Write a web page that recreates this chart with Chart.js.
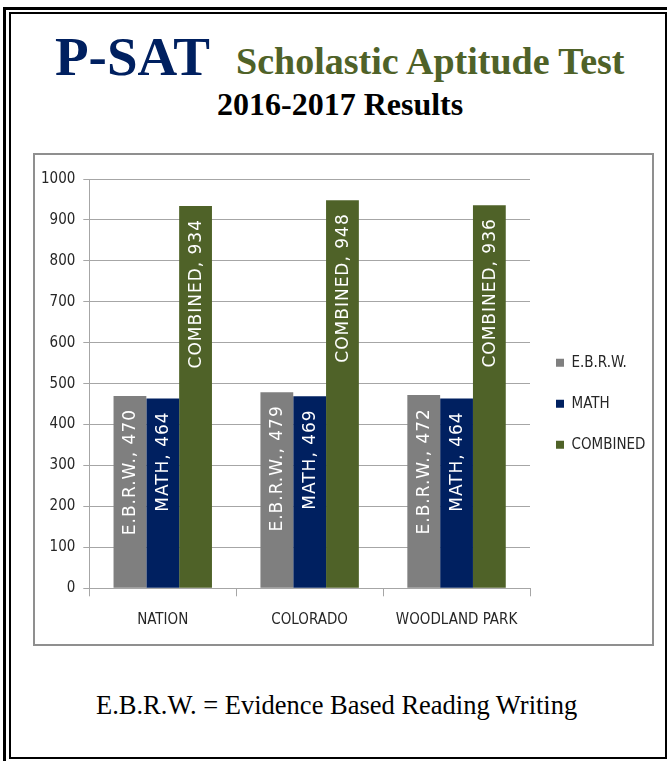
<!DOCTYPE html>
<html>
<head>
<meta charset="utf-8">
<script src="https://cdn.jsdelivr.net/npm/chart.js@4.4.1/dist/chart.umd.min.js"></script>
<style>
  html, body { margin: 0; padding: 0; background: #fff; }
  body { width: 667px; height: 761px; position: relative; overflow: hidden; }
  .frame-outer { position: absolute; left: 3px; top: 7px; width: 690px; height: 780px; border: 3px solid #000; box-sizing: border-box; }
  .frame-inner { position: absolute; left: 9px; top: 12px; width: 658px; height: 747px; border: 2px solid #000; box-sizing: border-box; }
  .txt { position: absolute; white-space: nowrap; line-height: 1; font-family: "Liberation Serif", "Times New Roman", serif; }
  #psat { left: 55px; top: 29px; font-size: 55px; font-weight: bold; color: #002060; }
  #sat { left: 236px; top: 42px; font-size: 38px; font-weight: bold; color: #4F6228; }
  #results { left: 217px; top: 88px; font-size: 32px; font-weight: bold; color: #000; }
  #note { left: 96px; top: 692px; font-size: 26.5px; color: #000; }
  .chart-box { position: absolute; left: 33px; top: 153px; width: 621px; height: 493px; border: 2px solid #8f8f8f; box-sizing: border-box; background: #fff; }
  .chart-box canvas { position: absolute; left: 0; top: 0; }
</style>
</head>
<body>
<div class="frame-outer"></div>
<div class="frame-inner"></div>
<div class="txt" id="psat">P-SAT</div>
<div class="txt" id="sat">Scholastic Aptitude Test</div>
<div class="txt" id="results">2016-2017 Results</div>
<div class="chart-box"><canvas id="psatChart" width="617" height="489"></canvas></div>
<div class="txt" id="note">E.B.R.W. = Evidence Based Reading Writing</div>

<script>
const categories = ["NATION", "COLORADO", "WOODLAND PARK"];
const seriesNames = ["E.B.R.W.", "MATH", "COMBINED"];
const ebrwScores = [470, 479, 472];
const mathScores = [464, 469, 464];
const combinedScores = [934, 948, 936];
const yMin = 0;
const yMax = 1000;
const yStep = 100;

const colors = ["#7F7F7F", "#002060", "#4F6228"];
const fontFamily = "'DejaVu Sans Condensed', 'Liberation Sans Narrow', 'Liberation Sans', sans-serif";
const axisFont = { family: fontFamily, size: 15 };
const gridColor = "#a6a6a6";

// legend has to start where the plot ends (x = 530 on the page)
const legendPad = 26;
const legendBox = 8;
const measureCtx = document.createElement("canvas").getContext("2d");
measureCtx.font = `${axisFont.size}px ${fontFamily}`;
const longestLabel = Math.max(...seriesNames.map((name) => measureCtx.measureText(name).width));
const legendWidth = legendPad + legendBox + axisFont.size / 2 + longestLabel + 10;
const plotRight = 495;
const rightPadding = 617 - plotRight - legendWidth;

// white rotated labels inside the top of each bar, like "COMBINED, 934"
const barLabels = {
  id: "barLabels",
  afterDatasetsDraw(chart) {
    const ctx = chart.ctx;
    chart.data.datasets.forEach((dataset, i) => {
      const meta = chart.getDatasetMeta(i);
      meta.data.forEach((bar, j) => {
        ctx.save();
        ctx.translate(bar.x + 1, bar.y + 13);
        ctx.rotate(-Math.PI / 2);
        ctx.font = "17px 'DejaVu Sans', Verdana, sans-serif";
        ctx.letterSpacing = "1px";
        ctx.fillStyle = "#ffffff";
        ctx.textAlign = "right";
        ctx.textBaseline = "middle";
        ctx.fillText(`${dataset.label}, ${dataset.data[j]}`, 0, 0);
        ctx.restore();
      });
    });
  }
};

const datasets = [ebrwScores, mathScores, combinedScores].map((values, i) => ({
  label: seriesNames[i],
  data: values,
  backgroundColor: colors[i],
  borderWidth: 0,
  categoryPercentage: 0.67,
  barPercentage: 1.0
}));

new Chart(document.getElementById("psatChart"), {
  type: "bar",
  data: { labels: categories, datasets },
  options: {
    responsive: false,
    animation: false,
    devicePixelRatio: 1,
    layout: { padding: { top: 24, right: rightPadding, bottom: 15.7, left: 0 } },
    plugins: {
      legend: {
        position: "right",
        labels: {
          boxWidth: legendBox,
          boxHeight: legendBox,
          padding: legendPad,
          color: "#262626",
          font: axisFont
        }
      },
      tooltip: { enabled: false }
    },
    scales: {
      x: {
        grid: { drawOnChartArea: false, drawTicks: true, tickLength: 8, color: gridColor, offset: true },
        border: { display: true, color: gridColor },
        ticks: { color: "#262626", font: axisFont, padding: 15, autoSkip: false, minRotation: 0, maxRotation: 0 },
        afterFit(scale) { scale.height = 40; }
      },
      y: {
        min: yMin,
        max: yMax,
        ticks: {
          stepSize: yStep,
          color: "#262626",
          font: axisFont,
          padding: 8,
          callback(value) { return String(value); }
        },
        grid: { color: gridColor, tickLength: 6 },
        border: { display: true, color: gridColor },
        afterFit(scale) { scale.width = 54.3; }
      }
    }
  },
  plugins: [barLabels]
});
</script>
</body>
</html>
